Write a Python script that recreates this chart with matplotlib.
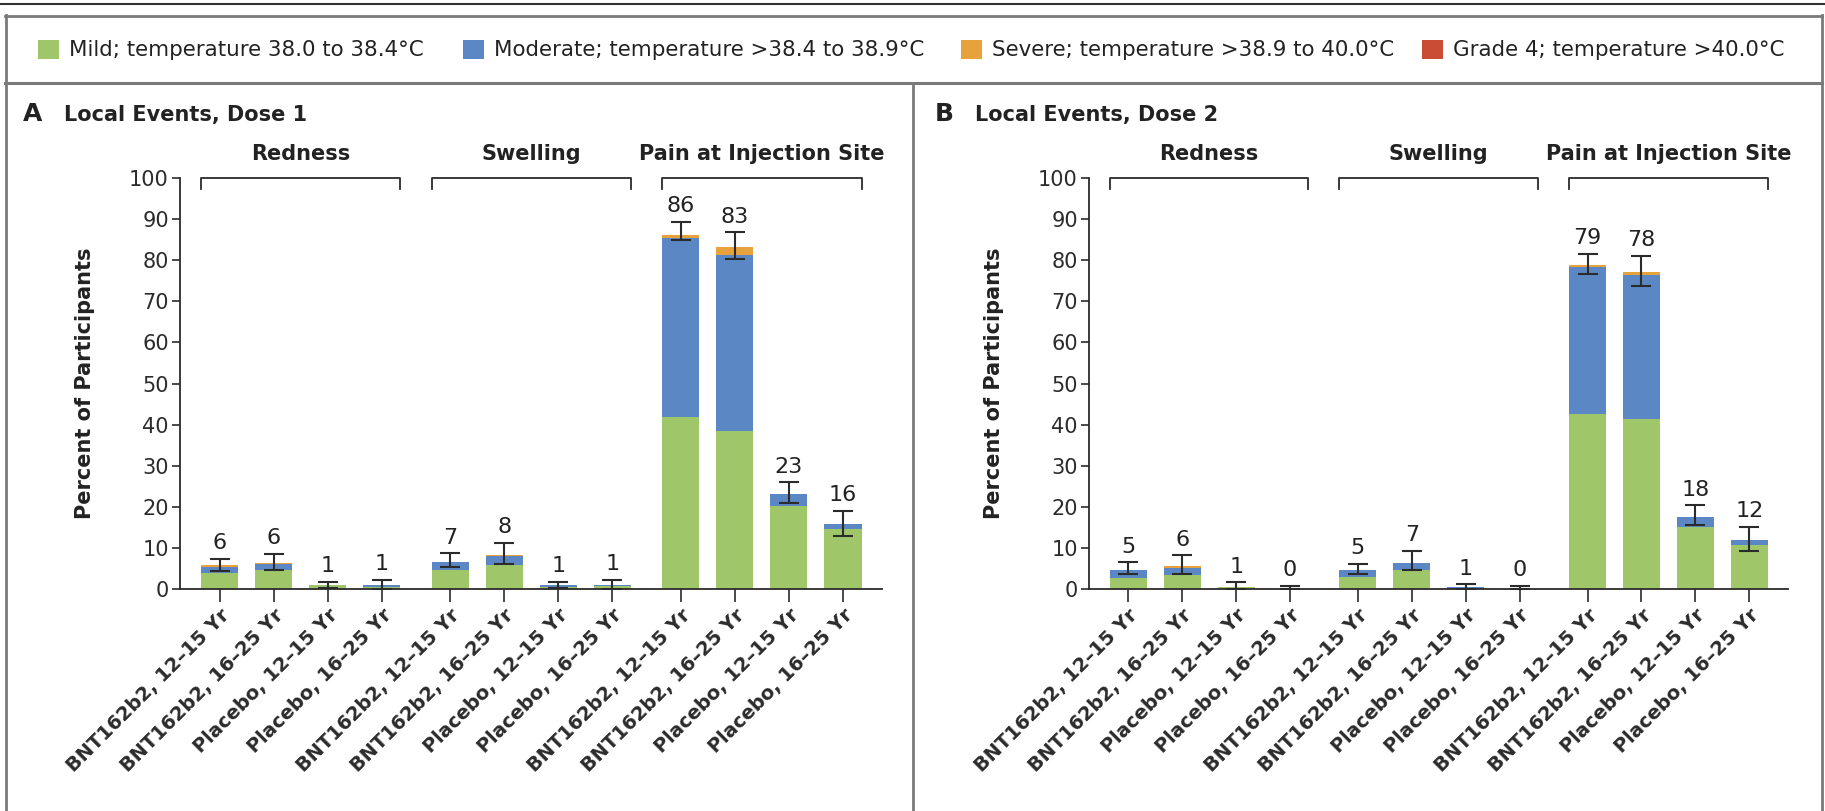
import numpy as np
import matplotlib
matplotlib.use('Agg')
import matplotlib.pyplot as plt
from matplotlib.lines import Line2D
from matplotlib.patches import Patch

# ---- data ----
groups = ['Redness', 'Swelling', 'Pain at Injection Site']
arms = ['BNT162b2, 12–15 Yr', 'BNT162b2, 16–25 Yr', 'Placebo, 12–15 Yr', 'Placebo, 16–25 Yr']
severity = ['Mild; temperature 38.0 to 38.4°C', 'Moderate; temperature >38.4 to 38.9°C',
            'Severe; temperature >38.9 to 40.0°C', 'Grade 4; temperature >40.0°C']

dose1_mild = [3.8, 4.6, 0.9, 0.5, 4.6, 5.8, 0.4, 0.7, 41.8, 38.5, 20.2, 14.5]
dose1_moderate = [1.6, 1.4, 0.1, 0.5, 2.0, 2.2, 0.5, 0.2, 43.5, 42.8, 2.8, 1.2]
dose1_severe = [0.4, 0.4, 0, 0, 0, 0.3, 0, 0, 0.8, 2.0, 0, 0]
dose1_grade4 = [0, 0, 0, 0, 0, 0, 0, 0, 0, 0, 0, 0]
dose1_total = [6, 6, 1, 1, 7, 8, 1, 1, 86, 83, 23, 16]
dose1_lo = [4.5, 4.6, 0.2, 0.0, 5.3, 6.2, 0.2, 0.0, 84.8, 80.2, 20.9, 13.0]
dose1_hi = [7.4, 8.6, 1.8, 2.2, 8.7, 11.2, 1.8, 2.2, 89.4, 86.8, 26.0, 19.0]

dose2_mild = [2.6, 3.4, 0.5, 0, 3.0, 4.6, 0.1, 0, 42.5, 41.3, 15.2, 10.7]
dose2_moderate = [2.0, 1.8, 0, 0, 1.6, 1.7, 0.5, 0, 35.9, 35.1, 2.4, 1.2]
dose2_severe = [0, 0.3, 0, 0, 0, 0, 0, 0, 0.4, 0.8, 0, 0]
dose2_grade4 = [0, 0, 0, 0, 0, 0, 0, 0, 0, 0, 0, 0]
dose2_total = [5, 6, 1, 0, 5, 7, 1, 0, 79, 78, 18, 12]
dose2_lo = [3.6, 3.6, 0.0, 0.0, 3.6, 4.6, 0.0, 0.0, 76.6, 73.7, 15.5, 9.3]
dose2_hi = [6.5, 8.2, 1.6, 0.8, 6.2, 9.3, 1.2, 0.8, 81.5, 81.1, 20.4, 15.1]

colors = ['#9fc76a', '#5b87c4', '#e8a23c', '#cb4c35']
dark = '#2b2b2b'
frame = '#7a7a7a'

plt.rcParams['font.family'] = ['DejaVu Sans']

W, H = 1825, 811
fig = plt.figure(figsize=(W / 100, H / 100), dpi=100)


def fx(x):
    return x / W


def fy(y):
    return 1 - y / H


# frame lines
fig.add_artist(Line2D([0, 1], [fy(4), fy(4)], transform=fig.transFigure, lw=1.5, color='#333333'))
fig.add_artist(Line2D([fx(5), fx(1822)], [fy(15.5), fy(15.5)], transform=fig.transFigure, lw=2, color=frame))
fig.add_artist(Line2D([fx(5), fx(1822)], [fy(83), fy(83)], transform=fig.transFigure, lw=2.2, color=frame))
fig.add_artist(Line2D([fx(5.5), fx(5.5)], [fy(15), 0], transform=fig.transFigure, lw=2, color=frame))
fig.add_artist(Line2D([fx(1822), fx(1822)], [fy(15), 0], transform=fig.transFigure, lw=2, color=frame))
fig.add_artist(Line2D([fx(913), fx(913)], [fy(83), 0], transform=fig.transFigure, lw=2, color=frame))

# legend entries, one per severity, placed along the strip
leg_x = [38, 463, 961, 1422]
for lab, c, x in zip(severity, colors, leg_x):
    leg = fig.legend([Patch(facecolor=c, edgecolor='none')], [lab], loc='center left',
                     bbox_to_anchor=(fx(x), fy(50)), frameon=False, fontsize=15.4,
                     handlelength=1.0, handleheight=1.0, handletextpad=0.45,
                     borderpad=0, borderaxespad=0)
    for t in leg.get_texts():
        t.set_color('#222222')

step = 4.26
xpos = np.array([g * step + i for g in range(3) for i in range(4)])
bw = 0.685
ticklabels = arms * 3

panels = [
    ('A', 'Local Events, Dose 1', [180, 882], 23, 64,
     [dose1_mild, dose1_moderate, dose1_severe, dose1_grade4], dose1_total, dose1_lo, dose1_hi),
    ('B', 'Local Events, Dose 2', [1089, 1788], 935, 975,
     [dose2_mild, dose2_moderate, dose2_severe, dose2_grade4], dose2_total, dose2_lo, dose2_hi),
]

for letter, title, (x0, x1), lx, tx, stacks, total, lo, hi in panels:
    ax = fig.add_axes([fx(x0), fy(589), (x1 - x0) / W, (589 - 178) / H])
    bottom = np.zeros(12)
    for vals, c in zip(stacks, colors):
        vals = np.array(vals, dtype=float)
        ax.bar(xpos, vals, bw, bottom=bottom, color=c, edgecolor='none', zorder=2)
        bottom += vals
    total = np.array(total, dtype=float)
    lo = np.array(lo)
    hi = np.array(hi)
    ax.errorbar(xpos, total, yerr=[total - lo, hi - total], fmt='none', ecolor=dark,
                elinewidth=1.5, capsize=7, capthick=1.5, zorder=3)
    for x, t, h in zip(xpos, total, hi):
        ax.annotate(f'{int(t)}', (x, h), xytext=(0, 4), textcoords='offset points',
                    ha='center', va='bottom', fontsize=16, color='#222222')

    for g, name in enumerate(groups):
        a = xpos[g * 4] - bw / 2
        b = xpos[g * 4 + 3] + bw / 2
        ax.plot([a, a, b, b], [97.3, 100, 100, 97.3], color=dark, lw=1.3, clip_on=False)
        ax.text((a + b) / 2, 105.8, name, ha='center', va='center', fontsize=15,
                fontweight='bold', color='#222222')

    ax.set_xlim(-0.73, 12.24)
    ax.set_ylim(0, 100)
    ax.set_yticks(range(0, 101, 10))
    ax.tick_params(axis='y', direction='out', length=6, width=1.2, labelsize=15,
                   colors=dark, pad=2)
    ax.tick_params(axis='x', direction='out', length=9, width=1.2, colors=dark, pad=3)
    ax.set_xticks(xpos)
    ax.set_xticklabels(ticklabels, rotation=45, ha='right', rotation_mode='anchor',
                       fontsize=14, fontweight='bold')
    for sp in ['top', 'right']:
        ax.spines[sp].set_visible(False)
    for sp in ['left', 'bottom']:
        ax.spines[sp].set_color(dark)
        ax.spines[sp].set_linewidth(1.3)
    ax.set_ylabel('Percent of Participants', fontsize=15, fontweight='bold', color='#222222')
    ax.yaxis.set_label_coords(-0.121, 0.5)

    fig.text(fx(lx), fy(114), letter, fontsize=18, fontweight='bold', va='center', color='#222222')
    fig.text(fx(tx), fy(115), title, fontsize=15, fontweight='bold', va='center', color='#222222')

fig.savefig('out.png', dpi=100)
